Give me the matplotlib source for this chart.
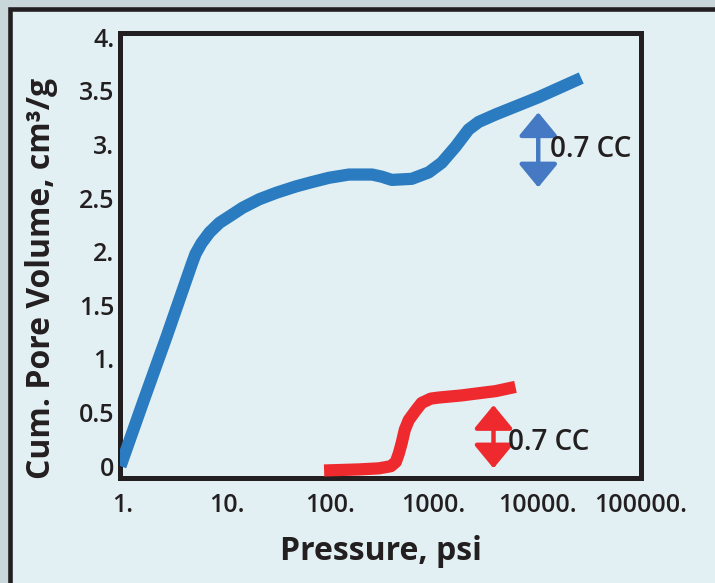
import matplotlib
matplotlib.use("Agg")
import matplotlib.pyplot as plt
from matplotlib.patches import Rectangle

# blue curve (pressure psi, cum. pore volume cm3/g)
blue_p = [0.95, 1.56, 2.65, 4.61, 5.03, 5.75, 6.87, 8.57, 10.7, 14.3, 20.8,
          30.3, 47.1, 67.1, 97.8, 152, 254, 316, 394, 614, 895, 1194, 1625,
          2170, 2710, 3950, 10200, 26500]
blue_v = [0.0, 0.59, 1.21, 1.88, 1.98, 2.08, 2.18, 2.27, 2.33, 2.41, 2.49,
          2.55, 2.61, 2.65, 2.69, 2.72, 2.72, 2.70, 2.67, 2.68, 2.74, 2.83, 2.98,
          3.14, 3.21, 3.28, 3.44, 3.62]

# red curve
red_p = [87.5, 190, 296, 386, 431, 461, 492, 526, 574, 671, 765, 935, 1110,
         1850, 2690, 3950, 6150]
red_v = [-0.04, -0.03, -0.02, 0.0, 0.04, 0.12, 0.22, 0.34, 0.43, 0.52, 0.59,
         0.63, 0.64, 0.66, 0.68, 0.70, 0.74]

# double arrows + labels
arrow_p = [10200, 3775]
arrow_lo = [2.60, -0.02]
arrow_hi = [3.30, 0.57]
arrow_text = ["0.7 CC", "0.7 CC"]
text_p = [13300, 5260]
text_v = [2.95, 0.22]

x_ticks = [1, 10, 100, 1000, 10000, 100000]
x_labels = ["1.", "10.", "100.", "1000.", "10000.", "100000."]
y_ticks = [0, 0.5, 1, 1.5, 2, 2.5, 3, 3.5, 4]
y_labels = ["0", "0.5", "1.", "1.5", "2.", "2.5", "3.", "3.5", "4."]

BG = "#e2f0f3"
BLUE = "#2b7bc0"
RED = "#ee2a2e"
ARROW_COLORS = ["#4679c3", RED]
INK = "#231f20"
FONT = ["Open Sans", "DejaVu Sans"]

fig = plt.figure(figsize=(7.15, 5.83), dpi=100, facecolor="#c9d6da")
top = 1 - 9.5 / 583
fig.patches.append(Rectangle((10 / 715, -0.1), 2.0, top + 0.1,
                             transform=fig.transFigure, facecolor=BG,
                             edgecolor=INK, lw=3.3, zorder=-10))

ax = fig.add_axes([120 / 715, 1 - 478 / 583, (641 - 120) / 715, (478 - 33) / 583])
ax.set_facecolor(BG)
ax.set_xscale("log")
ax.set_xlim(0.94, 1e5)
ax.set_ylim(-0.11, 4.04)

ax.plot(blue_p, blue_v, color=BLUE, lw=8.8, solid_joinstyle="round",
        solid_capstyle="butt", zorder=3)
ax.plot(red_p, red_v, color=RED, lw=8.8, solid_joinstyle="round",
        solid_capstyle="butt", zorder=3)

for p, lo, hi, c in zip(arrow_p, arrow_lo, arrow_hi, ARROW_COLORS):
    ax.annotate("", xy=(p, hi), xytext=(p, lo),
                arrowprops=dict(arrowstyle="<|-|>,head_length=0.85,head_width=0.7",
                                mutation_scale=17, lw=3.2, color=c,
                                shrinkA=0, shrinkB=0))
for p, v, t in zip(text_p, text_v, arrow_text):
    ax.text(p, v, t, ha="left", va="center", fontsize=20, color=INK,
            family=FONT, fontweight="semibold")

ax.set_xticks(x_ticks)
ax.set_xticklabels(x_labels)
ax.minorticks_off()
ax.set_yticks(y_ticks)
ax.set_yticklabels(y_labels)
ax.tick_params(length=0)
ax.tick_params(axis="x", pad=11)
ax.tick_params(axis="y", pad=4)
for lab in ax.get_xticklabels() + ax.get_yticklabels():
    lab.set_family(FONT)
    lab.set_fontweight("semibold")
    lab.set_fontsize(18)
    lab.set_color(INK)

for s in ax.spines.values():
    s.set_linewidth(3.6)
    s.set_color(INK)

fig.text(0.058, 0.523, "Cum. Pore Volume, cm³/g", rotation=90, ha="center",
         va="center", fontsize=23, fontweight="bold", color=INK, family=FONT)
fig.text(0.533, 1 - 560 / 583, "Pressure, psi", ha="center", va="baseline",
         fontsize=23, fontweight="bold", color=INK, family=FONT)

fig.savefig("out.png", dpi=100, facecolor=fig.get_facecolor())
